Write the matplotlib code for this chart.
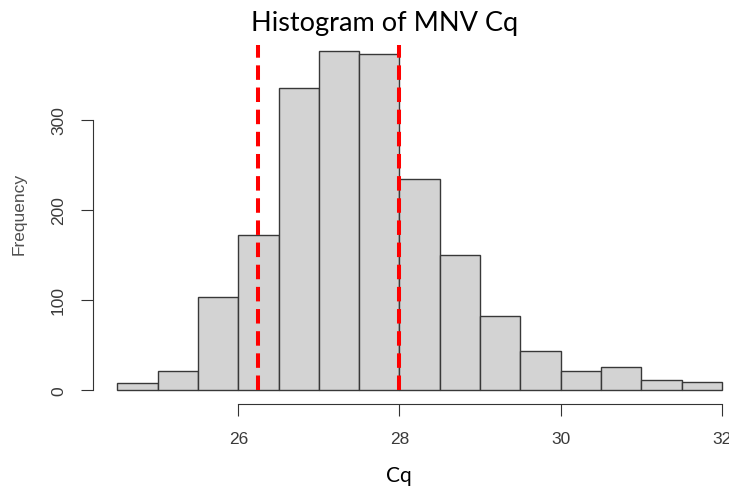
import matplotlib
matplotlib.use("Agg")
import matplotlib.pyplot as plt
import numpy as np

# Data
bin_edges = [24.5, 25.0, 25.5, 26.0, 26.5, 27.0, 27.5, 28.0, 28.5, 29.0, 29.5, 30.0, 30.5, 31.0, 31.5, 32.0]
counts = [8, 21, 103, 172, 336, 377, 373, 234, 150, 82, 43, 21, 25, 11, 9]
cutoffs = [26.25, 28.0]
cutoff_top = 383
x_ticks = [26, 28, 30, 32]
y_ticks = [0, 100, 200, 300]
title = "Histogram of MNV Cq"
xlabel = "Cq"
ylabel = "Frequency"

W, H = 729, 489
fig = plt.figure(figsize=(W / 100, H / 100), dpi=100)

ax_left_px, ax_right_px = 93.2, 746.0
ax_top_px, ax_bot_px = 37.2, 404.6
ax = fig.add_axes([ax_left_px / W, 1 - ax_bot_px / H,
                   (ax_right_px - ax_left_px) / W, (ax_bot_px - ax_top_px) / H])

lefts = np.array(bin_edges[:-1])
widths = np.diff(bin_edges)
ax.bar(lefts, counts, width=widths, align="edge", color="#d3d3d3",
       edgecolor="#383838", linewidth=1.0, zorder=2)

for c in cutoffs:
    ln, = ax.plot([c, c], [0, cutoff_top], color="#ff0000", linewidth=2.9,
                  solid_capstyle="butt", zorder=3)
    ln.set_dashes((3.6, 1.9))
    ln.set_dash_capstyle("butt")

ax.set_xlim(24.2, 32.3)
ax.set_ylim(-15.12, 393.12)

for s in ["top", "right"]:
    ax.spines[s].set_visible(False)
ax.spines["left"].set_bounds(0, 300)
ax.spines["bottom"].set_bounds(26, 32)
for s in ["left", "bottom"]:
    ax.spines[s].set_color("#333333")
    ax.spines[s].set_linewidth(0.8)

tick_font = dict(family=["Liberation Sans", "DejaVu Sans"], size=12.5)
ax.set_xticks(x_ticks)
ax.set_xticklabels([str(t) for t in x_ticks], color="#3a3a3a", **tick_font)
ax.set_yticks(y_ticks)
ax.set_yticklabels([str(t) for t in y_ticks], color="#3a3a3a", rotation=90,
                   va="center", **tick_font)
ax.tick_params(axis="both", length=8.5, width=0.8, color="#333333")
ax.tick_params(axis="x", pad=11)
ax.tick_params(axis="y", pad=11)

fig.text(385 / W, 1 - 24 / H, title, ha="center", va="center",
         family=["Lato", "DejaVu Sans"], fontsize=19.5, color="black")
fig.text(399 / W, 1 - 476 / H, xlabel, ha="center", va="center",
         family=["Lato", "DejaVu Sans"], fontsize=15, color="black")
fig.text(19 / W, 1 - 214 / H, ylabel, ha="center", va="center", rotation=90,
         family=["Liberation Sans", "DejaVu Sans"], fontsize=12.5, color="#505050")

fig.savefig("out.png", dpi=100)
